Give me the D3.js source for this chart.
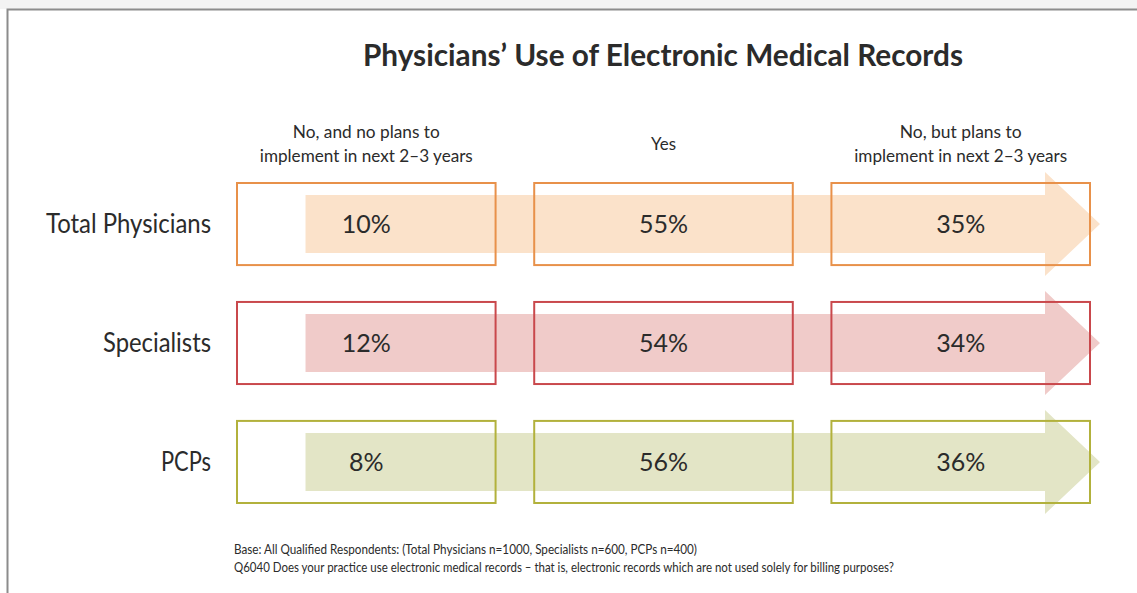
<!DOCTYPE html>
<html>
<head>
<meta charset="utf-8">
<script src="https://cdn.jsdelivr.net/npm/d3@7/dist/d3.min.js"></script>
<style>
  html, body { margin: 0; padding: 0; background: #fff; }
  svg { display: block; }
  text { font-family: Lato, "Noto Sans", sans-serif; fill: #2b2b2b; }
</style>
</head>
<body>
<svg id="chart" width="1137" height="593"></svg>
<script>
// Respondent groups (rows) and answer options (columns)
const groups = ["Total Physicians", "Specialists", "PCPs"];
const responses = [
  ["No, and no plans to", "implement in next 2–3 years"],
  ["Yes"],
  ["No, but plans to", "implement in next 2–3 years"]
];

// Share of each group giving each answer, in percent
const totalPhysicians = [10, 55, 35];
const specialists = [12, 54, 34];
const pcps = [8, 56, 36];
const values = [totalPhysicians, specialists, pcps];

// Colour per group: box outline and arrow fill
const strokeColors = ["#e8914a", "#c9484c", "#b2b13c"];
const fillColors = ["#fbe2ca", "#f0cbc9", "#e3e5c6"];

const title = "Physicians’ Use of Electronic Medical Records";
const notes = [
  "Base: All Qualified Respondents: (Total Physicians n=1000, Specialists n=600, PCPs n=400)",
  "Q6040 Does your practice use electronic medical records – that is, electronic records which are not used solely for billing purposes?"
];

const svg = d3.select("#chart");
const W = 1137, H = 593;

// Page frame
svg.append("rect").attr("x", 0).attr("y", 0).attr("width", W).attr("height", 9).attr("fill", "#f3f3f3");
svg.append("path")
  .attr("d", `M${W},9.5 H7.5 V${H}`)
  .attr("fill", "none").attr("stroke", "#8c8c8c").attr("stroke-width", 2);

const x = d3.scaleBand().domain(d3.range(responses.length)).range([237, 1090]).paddingInner(0.13);
const y = d3.scaleBand().domain(groups).range([183, 503]).paddingInner(0.31);
const bw = x.bandwidth(), bh = y.bandwidth();

// Title
svg.append("text")
  .attr("x", 663).attr("y", 66)
  .attr("text-anchor", "middle")
  .attr("font-size", 31).attr("font-weight", 700)
  .attr("textLength", 600).attr("lengthAdjust", "spacingAndGlyphs")
  .text(title);

// Column headers
const headerWidths = [[147, 213], [25], [122, 213]];
responses.forEach((lines, i) => {
  const cx = x(i) + bw / 2;
  const y0 = lines.length === 1 ? 150 : 138;
  lines.forEach((ln, j) => {
    svg.append("text")
      .attr("x", cx).attr("y", y0 + j * 23.5)
      .attr("text-anchor", "middle")
      .attr("font-size", 17.5)
      .attr("textLength", headerWidths[i][j]).attr("lengthAdjust", "spacingAndGlyphs")
      .text(ln);
  });
});

const rowLabelWidths = [165, 108, 50];
const rows = svg.selectAll("g.row")
  .data(groups)
  .join("g")
  .attr("class", "row");

rows.each(function (g, gi) {
  const sel = d3.select(this);
  const top = y(g), cy = top + bh / 2;
  const xStart = x(0) + bw * 0.265;
  const xEnd = x(responses.length - 1) + bw;
  const headStart = xEnd - 45, tip = xEnd + 10;
  const shaft = 29, head = 52;

  // Flow arrow behind the boxes
  sel.append("path")
    .attr("d", `M${xStart},${cy - shaft} H${headStart} V${cy - head} L${tip},${cy} L${headStart},${cy + head} V${cy + shaft} H${xStart} Z`)
    .attr("fill", fillColors[gi]);

  // Answer boxes
  sel.selectAll("rect.box")
    .data(values[gi])
    .join("rect")
    .attr("class", "box")
    .attr("x", (d, i) => x(i)).attr("y", top)
    .attr("width", bw).attr("height", bh)
    .attr("fill", "none")
    .attr("stroke", strokeColors[gi]).attr("stroke-width", 2);

  // Percent labels
  sel.selectAll("text.val")
    .data(values[gi])
    .join("text")
    .attr("class", "val")
    .attr("x", (d, i) => x(i) + bw / 2)
    .attr("y", cy + 9)
    .attr("text-anchor", "middle")
    .attr("font-size", 25)
    .text(d => d + "%");

  // Row label
  sel.append("text")
    .attr("x", 211).attr("y", cy + 9)
    .attr("text-anchor", "end")
    .attr("font-size", 26)
    .attr("textLength", rowLabelWidths[gi]).attr("lengthAdjust", "spacingAndGlyphs")
    .text(g);
});

// Footnotes
const noteWidths = [463, 660];
notes.forEach((t, i) => {
  svg.append("text")
    .attr("x", 234).attr("y", 554 + i * 17.5)
    .attr("font-size", 12.5)
    .attr("fill", "#3a3a3a")
    .attr("textLength", noteWidths[i]).attr("lengthAdjust", "spacingAndGlyphs")
    .text(t);
});
</script>
</body>
</html>
